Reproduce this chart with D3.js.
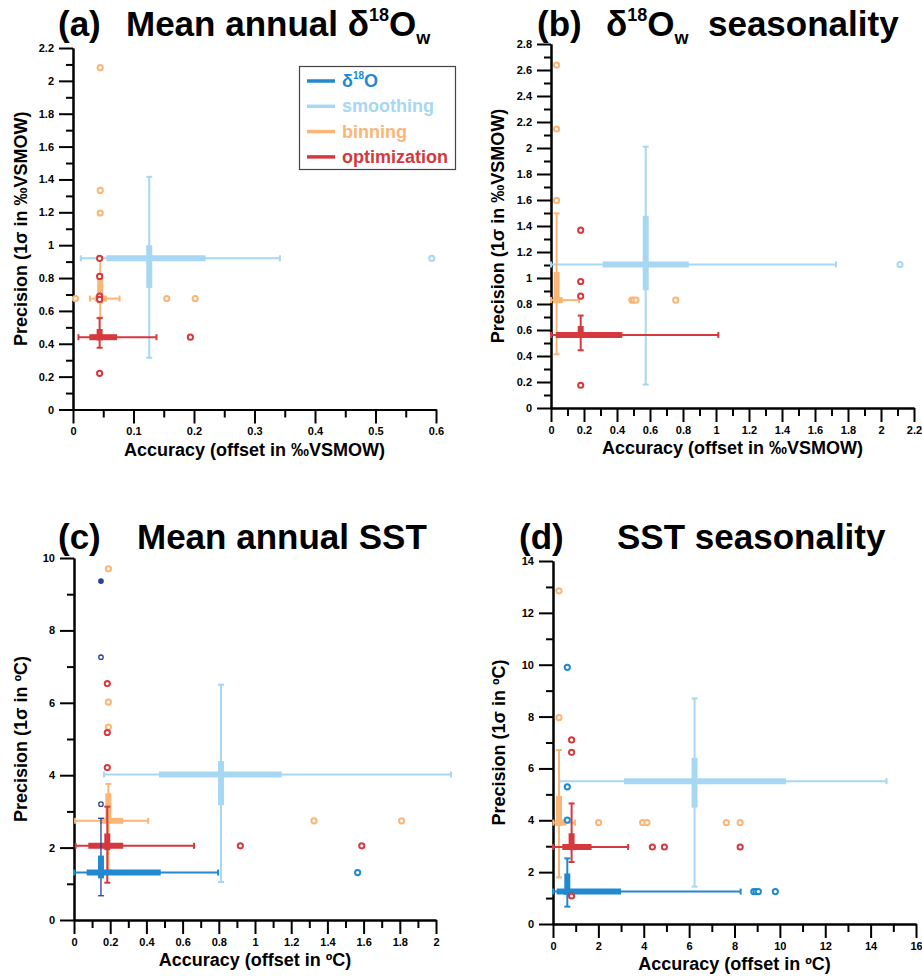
<html>
<head>
  <title>precision vs accuracy</title>
  <script src="https://cdn.jsdelivr.net/npm/d3@7"></script>
  <style>
    body { margin: 0; background: #fff; }
    text { font-family: Arial, "Liberation Sans", sans-serif; font-weight: bold; }
  </style>
</head>
<body>
<script>
// Farver for hver metode
const cD18O = "#2089d0";
const cSmooth = "#a7d7f2";
const cBin = "#fbb576";
const cOpt = "#d5393d";
const cNavy = "#27409a";

const legendNames = ["δ18O", "smoothing", "binning", "optimization"];

// Hver serie: [whisker lav, q1, median, q3, whisker høj] for x og y, plus outliers [x, y]
// (a) Mean annual d18Ow
const aXTicks = [0, 0.1, 0.2, 0.3, 0.4, 0.5, 0.6];
const aYTicks = [0, 0.2, 0.4, 0.6, 0.8, 1, 1.2, 1.4, 1.6, 1.8, 2, 2.2];
const aSmoothX = [0.013, 0.055, 0.126, 0.219, 0.342];
const aSmoothY = [0.315, 0.74, 0.92, 1.0, 1.416];
const aSmoothOut = [[0.593, 0.92]];
const aBinX = [0.028, 0.036, 0.045, 0.056, 0.077];
const aBinY = [0.56, 0.645, 0.675, 0.83, 0.92];
const aBinOut = [[0.045, 2.08], [0.045, 1.333], [0.045, 1.196], [0.004, 0.675], [0.155, 0.675], [0.202, 0.675]];
const aOptX = [0.009, 0.027, 0.044, 0.073, 0.138];
const aOptY = [0.376, 0.42, 0.44, 0.49, 0.556];
const aOptOut = [[0.044, 0.92], [0.044, 0.81], [0.044, 0.69], [0.044, 0.67], [0.194, 0.44], [0.044, 0.22]];

// (b) d18Ow seasonality
const bXTicks = [0, 0.2, 0.4, 0.6, 0.8, 1, 1.2, 1.4, 1.6, 1.8, 2, 2.2];
const bYTicks = [0, 0.2, 0.4, 0.6, 0.8, 1, 1.2, 1.4, 1.6, 1.8, 2, 2.2, 2.4, 2.6, 2.8];
const bSmoothX = [0, 0.313, 0.574, 0.835, 1.727];
const bSmoothY = [0.18, 0.906, 1.104, 1.478, 2.01];
const bSmoothOut = [[2.115, 1.104]];
const bBinX = [0, 0.014, 0.034, 0.071, 0.17];
const bBinY = [0.413, 0.81, 0.83, 1.047, 1.497];
const bBinOut = [[0.034, 2.638], [0.034, 2.146], [0.034, 1.597], [0.49, 0.83], [0.5, 0.83], [0.515, 0.83], [0.756, 0.83]];
const bOptX = [0, 0.029, 0.18, 0.432, 1.014];
const bOptY = [0.444, 0.539, 0.562, 0.631, 0.711];
const bOptOut = [[0.18, 1.368], [0.18, 0.973], [0.18, 0.86], [0.18, 0.175]];

// (c) Mean annual SST
const cXTicks = [0, 0.2, 0.4, 0.6, 0.8, 1, 1.2, 1.4, 1.6, 1.8, 2];
const cYTicks = [0, 2, 4, 6, 8, 10];
const cSmoothX = [0.166, 0.47, 0.812, 1.147, 2.083];
const cSmoothY = [1.05, 3.17, 4.02, 4.39, 6.5];
const cSmoothOut = [];
const cBinX = [0.006, 0.144, 0.19, 0.272, 0.41];
const cBinY = [1.38, 2.67, 2.74, 3.5, 3.76];
const cBinOut = [[0.19, 9.7], [0.19, 6.02], [0.19, 5.33], [1.326, 2.74], [1.81, 2.74]];
const cOptX = [0.009, 0.079, 0.184, 0.272, 0.663];
const cOptY = [1.03, 1.93, 2.05, 2.39, 3.13];
const cOptOut = [[0.184, 6.53], [0.184, 5.18], [0.184, 4.21], [0.919, 2.05], [1.59, 2.05]];
const cD18OX = [0, 0.07, 0.149, 0.479, 0.796];
const cD18OY = [0.67, 1.15, 1.31, 1.78, 2.81];
const cD18OOut = [[1.567, 1.31]];
const cNavyOut = [[0.149, 7.26], [0.149, 3.2]];
const cNavyFilled = [[0.149, 9.36]];

// (d) SST seasonality
const dXTicks = [0, 2, 4, 6, 8, 10, 12, 14, 16];
const dYTicks = [0, 2, 4, 6, 8, 10, 12, 14];
const dSmoothX = [0.28, 3.13, 6.24, 10.27, 14.7];
const dSmoothY = [1.44, 4.49, 5.51, 6.41, 8.7];
const dSmoothOut = [];
const dBinX = [0.015, 0.09, 0.264, 0.6, 0.97];
const dBinY = [1.8, 3.78, 3.91, 4.94, 6.71];
const dBinOut = [[0.264, 12.85], [0.264, 7.96], [2.01, 3.91], [3.95, 3.91], [4.14, 3.91], [7.64, 3.91], [8.25, 3.91]];
const dOptX = [0, 0.41, 0.82, 1.70, 3.31];
const dOptY = [2.39, 2.85, 2.97, 3.5, 4.65];
const dOptOut = [[0.82, 7.1], [0.82, 6.62], [0.82, 1.08], [4.38, 2.97], [4.91, 2.97], [8.25, 2.97]];
const dD18OX = [0, 0.16, 0.63, 3.0, 8.27];
const dD18OY = [0.67, 1.12, 1.25, 1.95, 2.53];
const dD18OOut = [[0.63, 9.9], [0.63, 5.29], [0.63, 4.01], [8.85, 1.25], [8.95, 1.25], [9.05, 1.25], [9.8, 1.25]];

const svg = d3.select("body").append("svg")
  .attr("width", 922)
  .attr("height", 976);

// Midtpunkter mellem store ticks = små ticks
function minorOf(ticks) {
  const m = [];
  for (let i = 0; i < ticks.length - 1; i++) m.push((ticks[i] + ticks[i + 1]) / 2);
  return m;
}

function drawPanel(p) {
  const x = d3.scaleLinear().domain([p.xTicks[0], p.xTicks[p.xTicks.length - 1]]).range([p.x0, p.x1]);
  const y = d3.scaleLinear().domain([p.yTicks[0], p.yTicks[p.yTicks.length - 1]]).range([p.yB, p.yT]);
  const g = svg.append("g");

  // Akser
  const gx = g.append("g").attr("transform", `translate(0,${p.yB})`)
    .call(d3.axisBottom(x).tickValues(p.xTicks).tickSize(14).tickSizeOuter(0).tickPadding(4).tickFormat(d => d));
  const gxm = g.append("g").attr("transform", `translate(0,${p.yB})`)
    .call(d3.axisBottom(x).tickValues(minorOf(p.xTicks)).tickSize(8).tickSizeOuter(0).tickFormat(""));
  const gy = g.append("g").attr("transform", `translate(${p.x0},0)`)
    .call(d3.axisLeft(y).tickValues(p.yTicks).tickSize(14).tickSizeOuter(0).tickPadding(5).tickFormat(d => d));
  const gym = g.append("g").attr("transform", `translate(${p.x0},0)`)
    .call(d3.axisLeft(y).tickValues(minorOf(p.yTicks)).tickSize(7).tickSizeOuter(0).tickFormat(""));
  [gx, gxm, gy, gym].forEach(a => {
    a.selectAll("path, line").attr("stroke", "#000").attr("stroke-width", 2);
    a.selectAll("text").attr("fill", "#000").attr("font-size", "11px")
      .attr("font-family", "Arial, 'Liberation Sans', sans-serif").attr("font-weight", "bold");
  });

  // Akse-titler
  g.append("text")
    .attr("x", (p.x0 + p.x1) / 2).attr("y", p.yB + 46)
    .attr("text-anchor", "middle").attr("font-size", "18px")
    .text(p.xLabel);
  g.append("text")
    .attr("transform", `translate(${p.yLabelX},${(p.yT + p.yB) / 2}) rotate(-90)`)
    .attr("text-anchor", "middle").attr("font-size", "18px")
    .text(p.yLabel);

  // Bokse og whiskers
  const cap = 3;
  for (let s of p.series) {
    const cy = y(s.y[2]);
    const cx = x(s.x[2]);
    // vandret whisker
    g.append("line").attr("x1", x(s.x[0])).attr("x2", x(s.x[4])).attr("y1", cy).attr("y2", cy)
      .attr("stroke", s.color).attr("stroke-width", 2);
    [s.x[0], s.x[4]].forEach(v => {
      g.append("line").attr("x1", x(v)).attr("x2", x(v)).attr("y1", cy - cap).attr("y2", cy + cap)
        .attr("stroke", s.color).attr("stroke-width", 2);
    });
    // lodret whisker
    const vc = s.vColor || s.color;
    const vw = s.vColor ? 1.3 : 2;
    g.append("line").attr("x1", cx).attr("x2", cx).attr("y1", y(s.y[0])).attr("y2", y(s.y[4]))
      .attr("stroke", vc).attr("stroke-width", vw);
    [s.y[0], s.y[4]].forEach(v => {
      g.append("line").attr("x1", cx - cap).attr("x2", cx + cap).attr("y1", y(v)).attr("y2", y(v))
        .attr("stroke", vc).attr("stroke-width", vw);
    });
    // tykke bokse
    g.append("line").attr("x1", x(s.x[1])).attr("x2", x(s.x[3])).attr("y1", cy).attr("y2", cy)
      .attr("stroke", s.color).attr("stroke-width", 6);
    g.append("line").attr("x1", cx).attr("x2", cx).attr("y1", y(s.y[1])).attr("y2", y(s.y[3]))
      .attr("stroke", s.color).attr("stroke-width", 6);
  }

  // Outliers
  for (let s of p.series) {
    g.selectAll(null).data(s.out).enter().append("circle")
      .attr("cx", d => x(d[0])).attr("cy", d => y(d[1])).attr("r", 2.6)
      .attr("fill", "#fff").attr("stroke", s.outColor || s.color).attr("stroke-width", 2);
  }
  if (p.extraOut) {
    g.selectAll(null).data(p.extraOut).enter().append("circle")
      .attr("cx", d => x(d[0])).attr("cy", d => y(d[1])).attr("r", 2.2)
      .attr("fill", "#fff").attr("stroke", cNavy).attr("stroke-width", 1.3);
  }
  if (p.extraFilled) {
    g.selectAll(null).data(p.extraFilled).enter().append("circle")
      .attr("cx", d => x(d[0])).attr("cy", d => y(d[1])).attr("r", 2.8)
      .attr("fill", cNavy);
  }
}

// Titler med hævet/sænket skrift
function title(x1, x2, y, label, parts) {
  svg.append("text").attr("x", x1).attr("y", y).attr("font-size", "35px").text(label);
  const t = svg.append("text").attr("x", x2).attr("y", y).attr("font-size", "35px").attr("xml:space", "preserve");
  for (let p of parts) {
    const ts = t.append("tspan").text(p.t);
    if (p.sup) ts.attr("font-size", "18px").attr("dy", -15);
    if (p.sub) ts.attr("font-size", "18px").attr("dy", 8);
    if (p.back) ts.attr("dy", p.back);
  }
}

title(58, 126, 36, "(a)", [{t: "Mean annual δ"}, {t: "18", sup: true}, {t: "O", back: 15}, {t: "w", sub: true}]);
title(537, 606, 36, "(b)", [{t: "δ"}, {t: "18", sup: true}, {t: "O", back: 15}, {t: "w", sub: true}, {t: "  seasonality", back: -8}]);
title(58, 137, 549, "(c)", [{t: "Mean annual SST"}]);
title(519, 617, 549, "(d)", [{t: "SST seasonality"}]);

const labelW = "Precision (1σ in ‰VSMOW)";
const labelWx = "Accuracy (offset in ‰VSMOW)";

drawPanel({
  x0: 73, x1: 436, yT: 48, yB: 409.5, xTicks: aXTicks, yTicks: aYTicks,
  xLabel: labelWx, yLabel: labelW, yLabelX: 27,
  series: [
    {x: aSmoothX, y: aSmoothY, out: aSmoothOut, color: cSmooth},
    {x: aBinX, y: aBinY, out: aBinOut, color: cBin},
    {x: aOptX, y: aOptY, out: aOptOut, color: cOpt}
  ]
});
drawPanel({
  x0: 551, x1: 914, yT: 44, yB: 408, xTicks: bXTicks, yTicks: bYTicks,
  xLabel: labelWx, yLabel: labelW, yLabelX: 504,
  series: [
    {x: bSmoothX, y: bSmoothY, out: bSmoothOut, color: cSmooth},
    {x: bBinX, y: bBinY, out: bBinOut, color: cBin},
    {x: bOptX, y: bOptY, out: bOptOut, color: cOpt}
  ]
});
drawPanel({
  x0: 74, x1: 436, yT: 558, yB: 920, xTicks: cXTicks, yTicks: cYTicks,
  xLabel: "Accuracy (offset in ºC)", yLabel: "Precision (1σ in ºC)", yLabelX: 27,
  series: [
    {x: cSmoothX, y: cSmoothY, out: cSmoothOut, color: cSmooth},
    {x: cBinX, y: cBinY, out: cBinOut, color: cBin},
    {x: cOptX, y: cOptY, out: cOptOut, color: cOpt},
    {x: cD18OX, y: cD18OY, out: cD18OOut, color: cD18O, vColor: cNavy}
  ],
  extraOut: cNavyOut, extraFilled: cNavyFilled
});
drawPanel({
  x0: 553, x1: 916, yT: 561, yB: 924, xTicks: dXTicks, yTicks: dYTicks,
  xLabel: "Accuracy (offset in ºC)", yLabel: "Precision (1σ in ºC)", yLabelX: 505,
  series: [
    {x: dSmoothX, y: dSmoothY, out: dSmoothOut, color: cSmooth},
    {x: dBinX, y: dBinY, out: dBinOut, color: cBin},
    {x: dOptX, y: dOptY, out: dOptOut, color: cOpt},
    {x: dD18OX, y: dD18OY, out: dD18OOut, color: cD18O}
  ]
});

// Legend i panel (a)
const legendColors = [cD18O, cSmooth, cBin, cOpt];
const leg = svg.append("g");
leg.append("rect").attr("x", 299.5).attr("y", 66.5).attr("width", 156).attr("height", 103)
  .attr("fill", "#fff").attr("stroke", "#444").attr("stroke-width", 1.2);
legendNames.forEach((n, i) => {
  const yy = 81 + i * 25.3;
  leg.append("line").attr("x1", 307).attr("x2", 335).attr("y1", yy).attr("y2", yy)
    .attr("stroke", legendColors[i]).attr("stroke-width", 3.5);
  const t = leg.append("text").attr("x", 342).attr("y", yy + 6).attr("font-size", "18px")
    .attr("fill", legendColors[i]);
  if (i === 0) {
    t.append("tspan").text("δ");
    t.append("tspan").text("18").attr("font-size", "10px").attr("dy", -8);
    t.append("tspan").text("O").attr("dy", 8);
  } else {
    t.text(n);
  }
});
</script>
</body>
</html>
